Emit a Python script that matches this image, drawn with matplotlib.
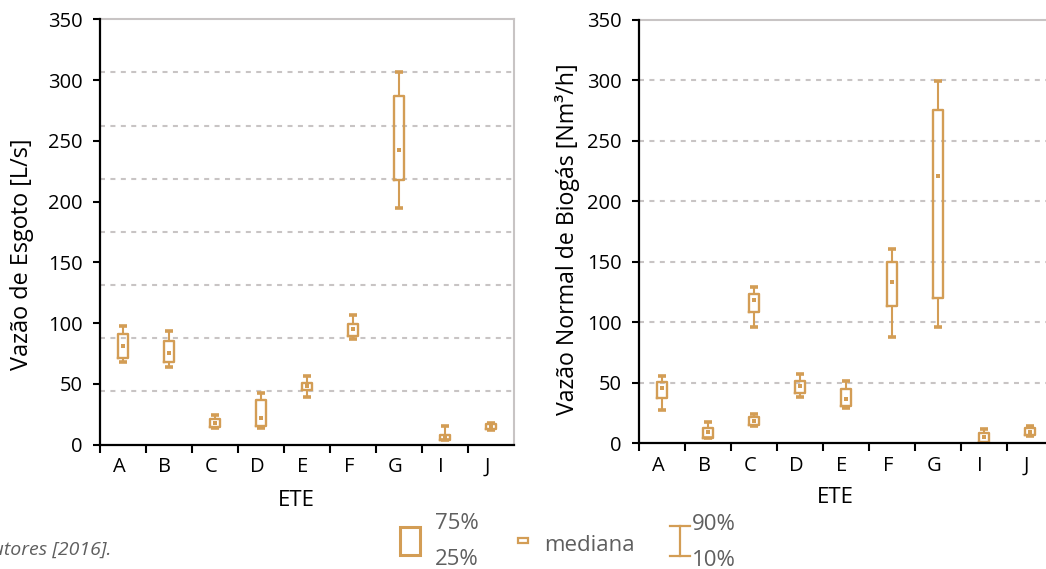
import numpy as np
import matplotlib
matplotlib.use("Agg")
import matplotlib.pyplot as plt
from matplotlib.patches import Rectangle
from matplotlib.lines import Line2D
import matplotlib.transforms as mtransforms

plt.rcParams['font.family'] = ['Open Sans', 'DejaVu Sans']

# ---------------- data ----------------
ete = ['A', 'B', 'C', 'D', 'E', 'F', 'G', 'I', 'J']

# Left: Vazão de Esgoto [L/s]
left_cat = ['A', 'B', 'C', 'D', 'E', 'F', 'G', 'I', 'J']
left_p10 = [67.6, 64.0, 13.9, 13.9, 39.5, 87.0, 194.9, 3.3, 12.0]
left_p25 = [70.9, 67.6, 14.5, 15.3, 44.5, 89.0, 217.5, 3.6, 12.5]
left_med = [80.9, 75.3, 17.8, 21.5, 47.9, 94.8, 242.7, 5.8, 14.7]
left_p75 = [90.6, 84.8, 20.9, 36.4, 50.9, 99.6, 286.7, 7.8, 16.7]
left_p90 = [97.6, 93.4, 23.9, 42.3, 56.2, 107.0, 306.7, 15.3, 17.5]

# Right: Vazão Normal de Biogás [Nm³/h]
right_cat = ['A', 'B', 'C', 'C', 'D', 'E', 'F', 'G', 'I', 'J']
right_p10 = [27.8, 4.0, 14.3, 96.3, 38.2, 29.4, 87.8, 95.8, 0.5, 6.0]
right_p25 = [37.7, 4.6, 14.9, 108.2, 41.8, 31.0, 113.6, 119.7, 1.1, 6.6]
right_med = [45.4, 9.1, 18.4, 118.1, 47.3, 36.3, 133.0, 221.0, 5.0, 9.6]
right_p75 = [50.9, 12.9, 21.5, 123.3, 51.7, 44.8, 149.5, 275.2, 8.8, 12.4]
right_p90 = [55.8, 17.3, 23.9, 129.3, 57.0, 51.7, 160.7, 298.9, 11.8, 14.5]

yticks = [0, 50, 100, 150, 200, 250, 300, 350]

# ---------------- style ----------------
W, H = 1046, 569
BOX = '#D39D55'
GRID = '#C8C4C4'
TXT_GRAY = '#5F5F5F'

fig = plt.figure(figsize=(W / 100, H / 100), dpi=100)


def rect(x0, x1, ytop, ybot):
    return [x0 / W, 1 - ybot / H, (x1 - x0) / W, (ybot - ytop) / H]


def draw_panel(ax, cats, p10, p25, med, p75, p90, grid_vals):
    pos = [ete.index(c) + 0.5 for c in cats]
    stats = [dict(med=m, q1=a, q3=b, whislo=lo, whishi=hi, fliers=[])
             for lo, a, m, b, hi in zip(p10, p25, med, p75, p90)]
    ax.set_xlim(0, len(ete))
    ax.set_ylim(0, 350)
    for g in grid_vals:
        ax.axhline(g, color=GRID, lw=1.5, ls=(0, (2.4, 2.6)), zorder=0.5)
    ax.bxp(stats, positions=pos, widths=0.226, capwidths=0.19,
           showfliers=False, manage_ticks=False,
           boxprops=dict(color=BOX, lw=1.7),
           whiskerprops=dict(color=BOX, lw=1.5, solid_capstyle='butt'),
           capprops=dict(color=BOX, lw=2.6, solid_capstyle='butt'),
           medianprops=dict(lw=0))
    ax.plot(pos, med, 's', color=BOX, ms=2.6, mew=0, zorder=3)

    ax.set_yticks(yticks)
    ax.set_yticklabels([str(v) for v in yticks])
    ax.set_xticks(np.arange(len(ete)))
    ax.set_xticklabels([])
    ax.set_xticks(np.arange(len(ete)) + 0.5, minor=True)
    ax.set_xticklabels(ete, minor=True)
    ax.tick_params(axis='x', which='major', direction='out', length=5.8,
                   width=1.5, color='black')
    ax.tick_params(axis='x', which='minor', length=0, pad=9.0,
                   labelsize=14.5, labelcolor='black')
    ax.tick_params(axis='y', direction='out', length=5.3, width=1.5,
                   color='black', pad=7.0, labelsize=14.5)
    off = mtransforms.ScaledTranslation(-4 / 100, 0, fig.dpi_scale_trans)
    for lab in ax.get_xticklabels(minor=True):
        lab.set_transform(lab.get_transform() + off)
    for s in ['left', 'bottom']:
        ax.spines[s].set_color('black')
        ax.spines[s].set_linewidth(1.6)
    for s in ['top', 'right']:
        ax.spines[s].set_color(GRID)
        ax.spines[s].set_linewidth(1.5)
    ax.spines['left'].set_zorder(4)
    ax.spines['bottom'].set_zorder(4)


axL = fig.add_axes(rect(100, 514, 19.3, 444.5))
draw_panel(axL, left_cat, left_p10, left_p25, left_med, left_p75, left_p90,
           np.linspace(0, 350, 9)[1:-1])

axR = fig.add_axes(rect(639, 1053, 19.5, 443.3))
draw_panel(axR, right_cat, right_p10, right_p25, right_med, right_p75, right_p90,
           yticks[1:-1])

# ---------------- overlay for labels / legend ----------------
ov = fig.add_axes([0, 0, 1, 1])
ov.set_xlim(0, W)
ov.set_ylim(H, 0)
ov.axis('off')

renderer = fig.canvas.get_renderer()


def fitted_vertical(x, y, txt, target_len, base=16):
    t = ov.text(x, y, txt, rotation=90, ha='center', va='center',
                fontsize=base, color='black')
    bb = t.get_window_extent(renderer)
    t.set_fontsize(base * target_len / bb.height)
    return t


fitted_vertical(22, 254, 'Vazão de Esgoto [L/s]', 232)
fitted_vertical(568, 239, 'Vazão Normal de Biogás [Nm³/h]', 352)

ov.text(296, 505.5, 'ETE', ha='center', va='baseline', fontsize=16, color='black')
ov.text(835, 503, 'ETE', ha='center', va='baseline', fontsize=16, color='black')

# footnote (cut at the left edge, as in the source image)
ov.text(111, 555, 'Fonte: Autores [2016].', ha='right', va='baseline',
        fontsize=14, style='italic', color=TXT_GRAY)

# legend
ov.add_patch(Rectangle((399.5, 527), 20, 28, fill=False, ec=BOX, lw=2.2))
ov.text(435, 529, '75%', ha='left', va='baseline', fontsize=16, color=TXT_GRAY)
ov.text(435, 565, '25%', ha='left', va='baseline', fontsize=16, color=TXT_GRAY)

ov.add_patch(Rectangle((518.3, 537.7), 10, 5.5, fill=False, ec=BOX, lw=1.6))
ov.text(544, 551, 'mediana', ha='left', va='baseline', fontsize=16, color=TXT_GRAY)

ov.add_line(Line2D([680, 680], [526, 556], color=BOX, lw=1.6))
ov.add_line(Line2D([669.5, 690], [526, 526], color=BOX, lw=1.6))
ov.add_line(Line2D([669.5, 690], [556, 556], color=BOX, lw=1.6))
ov.text(692, 530.5, '90%', ha='left', va='baseline', fontsize=16, color=TXT_GRAY)
ov.text(692, 566, '10%', ha='left', va='baseline', fontsize=16, color=TXT_GRAY)

fig.savefig('out.png', dpi=100)
